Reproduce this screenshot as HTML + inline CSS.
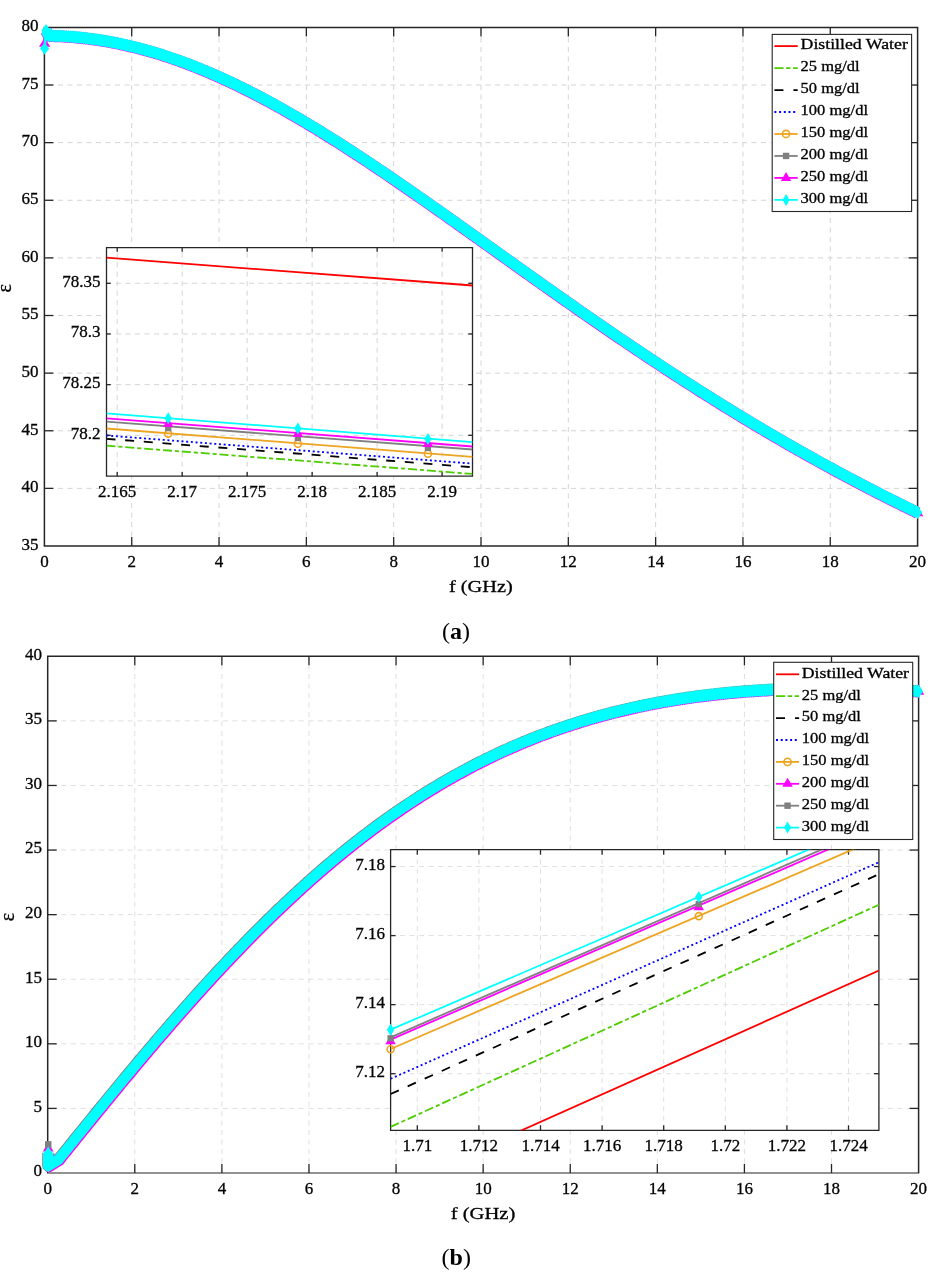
<!DOCTYPE html><html><head><meta charset="utf-8"><style>html,body{margin:0;padding:0;background:#fff;}svg{display:block}</style></head><body>
<svg width="946" height="1284" viewBox="0 0 946 1284" style="font-family:'Liberation Serif',serif">
<style>text{stroke:#000;stroke-width:0.3px;fill:#000}</style>
<rect width="946" height="1284" fill="#fff"/>
<line x1="131.72" y1="546" x2="131.72" y2="27.4" stroke="#d4d4d4" stroke-width="1" stroke-dasharray="5 4.5" stroke-dashoffset="0.0"/>
<line x1="219.04" y1="546" x2="219.04" y2="27.4" stroke="#d4d4d4" stroke-width="1" stroke-dasharray="5 4.5" stroke-dashoffset="0.0"/>
<line x1="306.36" y1="546" x2="306.36" y2="27.4" stroke="#d4d4d4" stroke-width="1" stroke-dasharray="5 4.5" stroke-dashoffset="0.0"/>
<line x1="393.68" y1="546" x2="393.68" y2="27.4" stroke="#d4d4d4" stroke-width="1" stroke-dasharray="5 4.5" stroke-dashoffset="0.0"/>
<line x1="481" y1="546" x2="481" y2="27.4" stroke="#d4d4d4" stroke-width="1" stroke-dasharray="5 4.5" stroke-dashoffset="0.0"/>
<line x1="568.32" y1="546" x2="568.32" y2="27.4" stroke="#d4d4d4" stroke-width="1" stroke-dasharray="5 4.5" stroke-dashoffset="0.0"/>
<line x1="655.64" y1="546" x2="655.64" y2="27.4" stroke="#d4d4d4" stroke-width="1" stroke-dasharray="5 4.5" stroke-dashoffset="0.0"/>
<line x1="742.96" y1="546" x2="742.96" y2="27.4" stroke="#d4d4d4" stroke-width="1" stroke-dasharray="5 4.5" stroke-dashoffset="0.0"/>
<line x1="830.28" y1="546" x2="830.28" y2="27.4" stroke="#d4d4d4" stroke-width="1" stroke-dasharray="5 4.5" stroke-dashoffset="0.0"/>
<line x1="44.4" y1="488.38" x2="917.6" y2="488.38" stroke="#d4d4d4" stroke-width="1" stroke-dasharray="5 4.5" stroke-dashoffset="5.4"/>
<line x1="44.4" y1="430.76" x2="917.6" y2="430.76" stroke="#d4d4d4" stroke-width="1" stroke-dasharray="5 4.5" stroke-dashoffset="5.4"/>
<line x1="44.4" y1="373.13" x2="917.6" y2="373.13" stroke="#d4d4d4" stroke-width="1" stroke-dasharray="5 4.5" stroke-dashoffset="5.4"/>
<line x1="44.4" y1="315.51" x2="917.6" y2="315.51" stroke="#d4d4d4" stroke-width="1" stroke-dasharray="5 4.5" stroke-dashoffset="5.4"/>
<line x1="44.4" y1="257.89" x2="917.6" y2="257.89" stroke="#d4d4d4" stroke-width="1" stroke-dasharray="5 4.5" stroke-dashoffset="5.4"/>
<line x1="44.4" y1="200.27" x2="917.6" y2="200.27" stroke="#d4d4d4" stroke-width="1" stroke-dasharray="5 4.5" stroke-dashoffset="5.4"/>
<line x1="44.4" y1="142.64" x2="917.6" y2="142.64" stroke="#d4d4d4" stroke-width="1" stroke-dasharray="5 4.5" stroke-dashoffset="5.4"/>
<line x1="44.4" y1="85.02" x2="917.6" y2="85.02" stroke="#d4d4d4" stroke-width="1" stroke-dasharray="5 4.5" stroke-dashoffset="5.4"/>
<path d="M44.4 546V27.4H917.6V546" fill="none" stroke="#262626" stroke-width="1.5"/>
<line x1="43.8" y1="546" x2="918.2" y2="546" stroke="#262626" stroke-width="1.6"/>
<line x1="131.72" y1="546" x2="131.72" y2="537" stroke="#262626" stroke-width="1.3"/>
<line x1="131.72" y1="27.4" x2="131.72" y2="36.4" stroke="#262626" stroke-width="1.3"/>
<line x1="219.04" y1="546" x2="219.04" y2="537" stroke="#262626" stroke-width="1.3"/>
<line x1="219.04" y1="27.4" x2="219.04" y2="36.4" stroke="#262626" stroke-width="1.3"/>
<line x1="306.36" y1="546" x2="306.36" y2="537" stroke="#262626" stroke-width="1.3"/>
<line x1="306.36" y1="27.4" x2="306.36" y2="36.4" stroke="#262626" stroke-width="1.3"/>
<line x1="393.68" y1="546" x2="393.68" y2="537" stroke="#262626" stroke-width="1.3"/>
<line x1="393.68" y1="27.4" x2="393.68" y2="36.4" stroke="#262626" stroke-width="1.3"/>
<line x1="481" y1="546" x2="481" y2="537" stroke="#262626" stroke-width="1.3"/>
<line x1="481" y1="27.4" x2="481" y2="36.4" stroke="#262626" stroke-width="1.3"/>
<line x1="568.32" y1="546" x2="568.32" y2="537" stroke="#262626" stroke-width="1.3"/>
<line x1="568.32" y1="27.4" x2="568.32" y2="36.4" stroke="#262626" stroke-width="1.3"/>
<line x1="655.64" y1="546" x2="655.64" y2="537" stroke="#262626" stroke-width="1.3"/>
<line x1="655.64" y1="27.4" x2="655.64" y2="36.4" stroke="#262626" stroke-width="1.3"/>
<line x1="742.96" y1="546" x2="742.96" y2="537" stroke="#262626" stroke-width="1.3"/>
<line x1="742.96" y1="27.4" x2="742.96" y2="36.4" stroke="#262626" stroke-width="1.3"/>
<line x1="830.28" y1="546" x2="830.28" y2="537" stroke="#262626" stroke-width="1.3"/>
<line x1="830.28" y1="27.4" x2="830.28" y2="36.4" stroke="#262626" stroke-width="1.3"/>
<line x1="44.4" y1="488.38" x2="53.4" y2="488.38" stroke="#262626" stroke-width="1.3"/>
<line x1="917.6" y1="488.38" x2="908.6" y2="488.38" stroke="#262626" stroke-width="1.3"/>
<line x1="44.4" y1="430.76" x2="53.4" y2="430.76" stroke="#262626" stroke-width="1.3"/>
<line x1="917.6" y1="430.76" x2="908.6" y2="430.76" stroke="#262626" stroke-width="1.3"/>
<line x1="44.4" y1="373.13" x2="53.4" y2="373.13" stroke="#262626" stroke-width="1.3"/>
<line x1="917.6" y1="373.13" x2="908.6" y2="373.13" stroke="#262626" stroke-width="1.3"/>
<line x1="44.4" y1="315.51" x2="53.4" y2="315.51" stroke="#262626" stroke-width="1.3"/>
<line x1="917.6" y1="315.51" x2="908.6" y2="315.51" stroke="#262626" stroke-width="1.3"/>
<line x1="44.4" y1="257.89" x2="53.4" y2="257.89" stroke="#262626" stroke-width="1.3"/>
<line x1="917.6" y1="257.89" x2="908.6" y2="257.89" stroke="#262626" stroke-width="1.3"/>
<line x1="44.4" y1="200.27" x2="53.4" y2="200.27" stroke="#262626" stroke-width="1.3"/>
<line x1="917.6" y1="200.27" x2="908.6" y2="200.27" stroke="#262626" stroke-width="1.3"/>
<line x1="44.4" y1="142.64" x2="53.4" y2="142.64" stroke="#262626" stroke-width="1.3"/>
<line x1="917.6" y1="142.64" x2="908.6" y2="142.64" stroke="#262626" stroke-width="1.3"/>
<line x1="44.4" y1="85.02" x2="53.4" y2="85.02" stroke="#262626" stroke-width="1.3"/>
<line x1="917.6" y1="85.02" x2="908.6" y2="85.02" stroke="#262626" stroke-width="1.3"/>
<defs>
<marker id="dmk" markerUnits="userSpaceOnUse" markerWidth="9.2" markerHeight="13" refX="4.6" refY="6.5" orient="0" style="overflow:visible"><path d="M4.6 0L9.2 6.5L4.6 13L0 6.5Z" fill="#00ffff"/></marker>
<marker id="dmkb" markerUnits="userSpaceOnUse" markerWidth="9" markerHeight="13.2" refX="4.5" refY="6.6" orient="0" style="overflow:visible"><path d="M4.5 0L9 6.6L4.5 13.2L0 6.6Z" fill="#00ffff"/></marker>
</defs>
<path d="M46.0 30.4 L48.8 35.7 L50.9 35.8 L53.1 35.8 L55.3 35.9 L57.5 36.0 L59.7 36.0 L61.8 36.1 L64.0 36.3 L66.2 36.4 L68.4 36.5 L70.5 36.7 L72.7 36.8 L74.9 37.0 L77.1 37.2 L79.3 37.4 L81.4 37.6 L83.6 37.9 L85.8 38.1 L88.0 38.4 L90.1 38.7 L92.3 38.9 L94.5 39.2 L96.7 39.6 L98.8 39.9 L101.0 40.2 L103.2 40.6 L105.4 40.9 L107.6 41.3 L109.7 41.7 L111.9 42.1 L114.1 42.5 L116.3 42.9 L118.4 43.4 L120.6 43.8 L122.8 44.3 L125.0 44.8 L127.2 45.3 L129.3 45.8 L131.5 46.3 L133.7 46.8 L135.9 47.4 L138.0 47.9 L140.2 48.5 L142.4 49.1 L144.6 49.7 L146.8 50.3 L148.9 50.9 L151.1 51.5 L153.3 52.1 L155.5 52.8 L157.6 53.4 L159.8 54.1 L162.0 54.8 L164.2 55.5 L166.4 56.2 L168.5 56.9 L170.7 57.7 L172.9 58.4 L175.1 59.2 L177.2 59.9 L179.4 60.7 L181.6 61.5 L183.8 62.3 L186.0 63.1 L188.1 63.9 L190.3 64.8 L192.5 65.6 L194.7 66.5 L196.8 67.3 L199.0 68.2 L201.2 69.1 L203.4 70.0 L205.5 70.9 L207.7 71.8 L209.9 72.7 L212.1 73.7 L214.3 74.6 L216.4 75.6 L218.6 76.5 L220.8 77.5 L223.0 78.5 L225.1 79.5 L227.3 80.5 L229.5 81.5 L231.7 82.5 L233.9 83.6 L236.0 84.6 L238.2 85.7 L240.4 86.7 L242.6 87.8 L244.7 88.9 L246.9 90.0 L249.1 91.1 L251.3 92.2 L253.5 93.3 L255.6 94.4 L257.8 95.5 L260.0 96.7 L262.2 97.8 L264.3 99.0 L266.5 100.1 L268.7 101.3 L270.9 102.5 L273.1 103.7 L275.2 104.9 L277.4 106.1 L279.6 107.3 L281.8 108.5 L283.9 109.7 L286.1 111.0 L288.3 112.2 L290.5 113.5 L292.6 114.7 L294.8 116.0 L297.0 117.2 L299.2 118.5 L301.4 119.8 L303.5 121.1 L305.7 122.4 L307.9 123.7 L310.1 125.0 L312.2 126.3 L314.4 127.6 L316.6 128.9 L318.8 130.3 L321.0 131.6 L323.1 133.0 L325.3 134.3 L327.5 135.7 L329.7 137.0 L331.8 138.4 L334.0 139.8 L336.2 141.1 L338.4 142.5 L340.6 143.9 L342.7 145.3 L344.9 146.7 L347.1 148.1 L349.3 149.5 L351.4 150.9 L353.6 152.3 L355.8 153.8 L358.0 155.2 L360.2 156.6 L362.3 158.0 L364.5 159.5 L366.7 160.9 L368.9 162.4 L371.0 163.8 L373.2 165.3 L375.4 166.7 L377.6 168.2 L379.8 169.7 L381.9 171.1 L384.1 172.6 L386.3 174.1 L388.5 175.6 L390.6 177.0 L392.8 178.5 L395.0 180.0 L397.2 181.5 L399.3 183.0 L401.5 184.5 L403.7 186.0 L405.9 187.5 L408.1 189.0 L410.2 190.5 L412.4 192.0 L414.6 193.5 L416.8 195.1 L418.9 196.6 L421.1 198.1 L423.3 199.6 L425.5 201.1 L427.7 202.7 L429.8 204.2 L432.0 205.7 L434.2 207.3 L436.4 208.8 L438.5 210.3 L440.7 211.9 L442.9 213.4 L445.1 214.9 L447.3 216.5 L449.4 218.0 L451.6 219.6 L453.8 221.1 L456.0 222.6 L458.1 224.2 L460.3 225.7 L462.5 227.3 L464.7 228.8 L466.9 230.4 L469.0 231.9 L471.2 233.5 L473.4 235.0 L475.6 236.6 L477.7 238.1 L479.9 239.7 L482.1 241.3 L484.3 242.8 L486.4 244.4 L488.6 245.9 L490.8 247.5 L493.0 249.0 L495.2 250.6 L497.3 252.1 L499.5 253.7 L501.7 255.2 L503.9 256.8 L506.0 258.4 L508.2 259.9 L510.4 261.5 L512.6 263.0 L514.8 264.6 L516.9 266.1 L519.1 267.7 L521.3 269.2 L523.5 270.8 L525.6 272.3 L527.8 273.9 L530.0 275.4 L532.2 277.0 L534.4 278.5 L536.5 280.1 L538.7 281.6 L540.9 283.1 L543.1 284.7 L545.2 286.2 L547.4 287.8 L549.6 289.3 L551.8 290.8 L554.0 292.4 L556.1 293.9 L558.3 295.4 L560.5 297.0 L562.7 298.5 L564.8 300.0 L567.0 301.6 L569.2 303.1 L571.4 304.6 L573.6 306.1 L575.7 307.7 L577.9 309.2 L580.1 310.7 L582.3 312.2 L584.4 313.7 L586.6 315.2 L588.8 316.8 L591.0 318.3 L593.1 319.8 L595.3 321.3 L597.5 322.8 L599.7 324.3 L601.9 325.8 L604.0 327.3 L606.2 328.8 L608.4 330.3 L610.6 331.8 L612.7 333.2 L614.9 334.7 L617.1 336.2 L619.3 337.7 L621.5 339.2 L623.6 340.6 L625.8 342.1 L628.0 343.6 L630.2 345.1 L632.3 346.5 L634.5 348.0 L636.7 349.5 L638.9 350.9 L641.1 352.4 L643.2 353.8 L645.4 355.3 L647.6 356.7 L649.8 358.2 L651.9 359.6 L654.1 361.1 L656.3 362.5 L658.5 363.9 L660.7 365.4 L662.8 366.8 L665.0 368.2 L667.2 369.7 L669.4 371.1 L671.5 372.5 L673.7 373.9 L675.9 375.3 L678.1 376.7 L680.2 378.1 L682.4 379.6 L684.6 381.0 L686.8 382.4 L689.0 383.7 L691.1 385.1 L693.3 386.5 L695.5 387.9 L697.7 389.3 L699.8 390.7 L702.0 392.1 L704.2 393.4 L706.4 394.8 L708.6 396.2 L710.7 397.5 L712.9 398.9 L715.1 400.3 L717.3 401.6 L719.4 403.0 L721.6 404.3 L723.8 405.7 L726.0 407.0 L728.2 408.4 L730.3 409.7 L732.5 411.0 L734.7 412.4 L736.9 413.7 L739.0 415.0 L741.2 416.3 L743.4 417.7 L745.6 419.0 L747.8 420.3 L749.9 421.6 L752.1 422.9 L754.3 424.2 L756.5 425.5 L758.6 426.8 L760.8 428.1 L763.0 429.4 L765.2 430.7 L767.4 432.0 L769.5 433.2 L771.7 434.5 L773.9 435.8 L776.1 437.1 L778.2 438.3 L780.4 439.6 L782.6 440.9 L784.8 442.1 L786.9 443.4 L789.1 444.6 L791.3 445.9 L793.5 447.1 L795.7 448.3 L797.8 449.6 L800.0 450.8 L802.2 452.0 L804.4 453.3 L806.5 454.5 L808.7 455.7 L810.9 456.9 L813.1 458.1 L815.3 459.4 L817.4 460.6 L819.6 461.8 L821.8 463.0 L824.0 464.2 L826.1 465.4 L828.3 466.5 L830.5 467.7 L832.7 468.9 L834.9 470.1 L837.0 471.3 L839.2 472.4 L841.4 473.6 L843.6 474.8 L845.7 475.9 L847.9 477.1 L850.1 478.3 L852.3 479.4 L854.5 480.6 L856.6 481.7 L858.8 482.8 L861.0 484.0 L863.2 485.1 L865.3 486.3 L867.5 487.4 L869.7 488.5 L871.9 489.6 L874.0 490.8 L876.2 491.9 L878.4 493.0 L880.6 494.1 L882.8 495.2 L884.9 496.3 L887.1 497.4 L889.3 498.5 L891.5 499.6 L893.6 500.7 L895.8 501.8 L898.0 502.9 L900.2 503.9 L902.4 505.0 L904.5 506.1 L906.7 507.2 L908.9 508.2 L911.1 509.3 L913.2 510.4 L915.4 511.4 L917.6 512.5" fill="none" stroke="#ff00ff" stroke-width="11.8" stroke-linejoin="round" stroke-linecap="butt" transform="translate(0,0.35)"/>
<path d="M917.6 506.33L923.2 516.33L912 516.33Z" fill="#ff00ff"/>
<path d="M46.0 30.4 L48.8 35.7 L50.9 35.8 L53.1 35.8 L55.3 35.9 L57.5 36.0 L59.7 36.0 L61.8 36.1 L64.0 36.3 L66.2 36.4 L68.4 36.5 L70.5 36.7 L72.7 36.8 L74.9 37.0 L77.1 37.2 L79.3 37.4 L81.4 37.6 L83.6 37.9 L85.8 38.1 L88.0 38.4 L90.1 38.7 L92.3 38.9 L94.5 39.2 L96.7 39.6 L98.8 39.9 L101.0 40.2 L103.2 40.6 L105.4 40.9 L107.6 41.3 L109.7 41.7 L111.9 42.1 L114.1 42.5 L116.3 42.9 L118.4 43.4 L120.6 43.8 L122.8 44.3 L125.0 44.8 L127.2 45.3 L129.3 45.8 L131.5 46.3 L133.7 46.8 L135.9 47.4 L138.0 47.9 L140.2 48.5 L142.4 49.1 L144.6 49.7 L146.8 50.3 L148.9 50.9 L151.1 51.5 L153.3 52.1 L155.5 52.8 L157.6 53.4 L159.8 54.1 L162.0 54.8 L164.2 55.5 L166.4 56.2 L168.5 56.9 L170.7 57.7 L172.9 58.4 L175.1 59.2 L177.2 59.9 L179.4 60.7 L181.6 61.5 L183.8 62.3 L186.0 63.1 L188.1 63.9 L190.3 64.8 L192.5 65.6 L194.7 66.5 L196.8 67.3 L199.0 68.2 L201.2 69.1 L203.4 70.0 L205.5 70.9 L207.7 71.8 L209.9 72.7 L212.1 73.7 L214.3 74.6 L216.4 75.6 L218.6 76.5 L220.8 77.5 L223.0 78.5 L225.1 79.5 L227.3 80.5 L229.5 81.5 L231.7 82.5 L233.9 83.6 L236.0 84.6 L238.2 85.7 L240.4 86.7 L242.6 87.8 L244.7 88.9 L246.9 90.0 L249.1 91.1 L251.3 92.2 L253.5 93.3 L255.6 94.4 L257.8 95.5 L260.0 96.7 L262.2 97.8 L264.3 99.0 L266.5 100.1 L268.7 101.3 L270.9 102.5 L273.1 103.7 L275.2 104.9 L277.4 106.1 L279.6 107.3 L281.8 108.5 L283.9 109.7 L286.1 111.0 L288.3 112.2 L290.5 113.5 L292.6 114.7 L294.8 116.0 L297.0 117.2 L299.2 118.5 L301.4 119.8 L303.5 121.1 L305.7 122.4 L307.9 123.7 L310.1 125.0 L312.2 126.3 L314.4 127.6 L316.6 128.9 L318.8 130.3 L321.0 131.6 L323.1 133.0 L325.3 134.3 L327.5 135.7 L329.7 137.0 L331.8 138.4 L334.0 139.8 L336.2 141.1 L338.4 142.5 L340.6 143.9 L342.7 145.3 L344.9 146.7 L347.1 148.1 L349.3 149.5 L351.4 150.9 L353.6 152.3 L355.8 153.8 L358.0 155.2 L360.2 156.6 L362.3 158.0 L364.5 159.5 L366.7 160.9 L368.9 162.4 L371.0 163.8 L373.2 165.3 L375.4 166.7 L377.6 168.2 L379.8 169.7 L381.9 171.1 L384.1 172.6 L386.3 174.1 L388.5 175.6 L390.6 177.0 L392.8 178.5 L395.0 180.0 L397.2 181.5 L399.3 183.0 L401.5 184.5 L403.7 186.0 L405.9 187.5 L408.1 189.0 L410.2 190.5 L412.4 192.0 L414.6 193.5 L416.8 195.1 L418.9 196.6 L421.1 198.1 L423.3 199.6 L425.5 201.1 L427.7 202.7 L429.8 204.2 L432.0 205.7 L434.2 207.3 L436.4 208.8 L438.5 210.3 L440.7 211.9 L442.9 213.4 L445.1 214.9 L447.3 216.5 L449.4 218.0 L451.6 219.6 L453.8 221.1 L456.0 222.6 L458.1 224.2 L460.3 225.7 L462.5 227.3 L464.7 228.8 L466.9 230.4 L469.0 231.9 L471.2 233.5 L473.4 235.0 L475.6 236.6 L477.7 238.1 L479.9 239.7 L482.1 241.3 L484.3 242.8 L486.4 244.4 L488.6 245.9 L490.8 247.5 L493.0 249.0 L495.2 250.6 L497.3 252.1 L499.5 253.7 L501.7 255.2 L503.9 256.8 L506.0 258.4 L508.2 259.9 L510.4 261.5 L512.6 263.0 L514.8 264.6 L516.9 266.1 L519.1 267.7 L521.3 269.2 L523.5 270.8 L525.6 272.3 L527.8 273.9 L530.0 275.4 L532.2 277.0 L534.4 278.5 L536.5 280.1 L538.7 281.6 L540.9 283.1 L543.1 284.7 L545.2 286.2 L547.4 287.8 L549.6 289.3 L551.8 290.8 L554.0 292.4 L556.1 293.9 L558.3 295.4 L560.5 297.0 L562.7 298.5 L564.8 300.0 L567.0 301.6 L569.2 303.1 L571.4 304.6 L573.6 306.1 L575.7 307.7 L577.9 309.2 L580.1 310.7 L582.3 312.2 L584.4 313.7 L586.6 315.2 L588.8 316.8 L591.0 318.3 L593.1 319.8 L595.3 321.3 L597.5 322.8 L599.7 324.3 L601.9 325.8 L604.0 327.3 L606.2 328.8 L608.4 330.3 L610.6 331.8 L612.7 333.2 L614.9 334.7 L617.1 336.2 L619.3 337.7 L621.5 339.2 L623.6 340.6 L625.8 342.1 L628.0 343.6 L630.2 345.1 L632.3 346.5 L634.5 348.0 L636.7 349.5 L638.9 350.9 L641.1 352.4 L643.2 353.8 L645.4 355.3 L647.6 356.7 L649.8 358.2 L651.9 359.6 L654.1 361.1 L656.3 362.5 L658.5 363.9 L660.7 365.4 L662.8 366.8 L665.0 368.2 L667.2 369.7 L669.4 371.1 L671.5 372.5 L673.7 373.9 L675.9 375.3 L678.1 376.7 L680.2 378.1 L682.4 379.6 L684.6 381.0 L686.8 382.4 L689.0 383.7 L691.1 385.1 L693.3 386.5 L695.5 387.9 L697.7 389.3 L699.8 390.7 L702.0 392.1 L704.2 393.4 L706.4 394.8 L708.6 396.2 L710.7 397.5 L712.9 398.9 L715.1 400.3 L717.3 401.6 L719.4 403.0 L721.6 404.3 L723.8 405.7 L726.0 407.0 L728.2 408.4 L730.3 409.7 L732.5 411.0 L734.7 412.4 L736.9 413.7 L739.0 415.0 L741.2 416.3 L743.4 417.7 L745.6 419.0 L747.8 420.3 L749.9 421.6 L752.1 422.9 L754.3 424.2 L756.5 425.5 L758.6 426.8 L760.8 428.1 L763.0 429.4 L765.2 430.7 L767.4 432.0 L769.5 433.2 L771.7 434.5 L773.9 435.8 L776.1 437.1 L778.2 438.3 L780.4 439.6 L782.6 440.9 L784.8 442.1 L786.9 443.4 L789.1 444.6 L791.3 445.9 L793.5 447.1 L795.7 448.3 L797.8 449.6 L800.0 450.8 L802.2 452.0 L804.4 453.3 L806.5 454.5 L808.7 455.7 L810.9 456.9 L813.1 458.1 L815.3 459.4 L817.4 460.6 L819.6 461.8 L821.8 463.0 L824.0 464.2 L826.1 465.4 L828.3 466.5 L830.5 467.7 L832.7 468.9 L834.9 470.1 L837.0 471.3 L839.2 472.4 L841.4 473.6 L843.6 474.8 L845.7 475.9 L847.9 477.1 L850.1 478.3 L852.3 479.4 L854.5 480.6 L856.6 481.7 L858.8 482.8 L861.0 484.0 L863.2 485.1 L865.3 486.3 L867.5 487.4 L869.7 488.5 L871.9 489.6 L874.0 490.8 L876.2 491.9 L878.4 493.0 L880.6 494.1 L882.8 495.2 L884.9 496.3 L887.1 497.4 L889.3 498.5 L891.5 499.6 L893.6 500.7 L895.8 501.8 L898.0 502.9 L900.2 503.9 L902.4 505.0 L904.5 506.1 L906.7 507.2 L908.9 508.2 L911.1 509.3 L913.2 510.4 L915.4 511.4 L917.6 512.5" fill="none" stroke="#00ffff" stroke-width="11.0" stroke-linejoin="round" stroke-linecap="butt" marker-start="url(#dmk)" marker-mid="url(#dmk)" marker-end="url(#dmk)"/>
<path d="M44.6 37.5L50.2 46.8L39 46.8Z" fill="#ff00ff"/>
<line x1="44.6" y1="48.6" x2="45.8" y2="33" stroke="#00ffff" stroke-width="2.6"/>
<path d="M44.6 42.6L49.2 48.6L44.6 54.6L40 48.6Z" fill="#00ffff"/>
<clipPath id="ca"><rect x="106.5" y="247.6" width="366" height="228.6"/></clipPath>
<rect x="106.5" y="247.6" width="366" height="228.6" fill="#fff"/>
<line x1="117.2" y1="476.2" x2="117.2" y2="247.6" stroke="#d4d4d4" stroke-width="1" stroke-dasharray="5 4.5"/>
<line x1="182.18" y1="476.2" x2="182.18" y2="247.6" stroke="#d4d4d4" stroke-width="1" stroke-dasharray="5 4.5"/>
<line x1="247.16" y1="476.2" x2="247.16" y2="247.6" stroke="#d4d4d4" stroke-width="1" stroke-dasharray="5 4.5"/>
<line x1="312.14" y1="476.2" x2="312.14" y2="247.6" stroke="#d4d4d4" stroke-width="1" stroke-dasharray="5 4.5"/>
<line x1="377.12" y1="476.2" x2="377.12" y2="247.6" stroke="#d4d4d4" stroke-width="1" stroke-dasharray="5 4.5"/>
<line x1="442.1" y1="476.2" x2="442.1" y2="247.6" stroke="#d4d4d4" stroke-width="1" stroke-dasharray="5 4.5"/>
<line x1="106.5" y1="435.3" x2="472.5" y2="435.3" stroke="#d4d4d4" stroke-width="1" stroke-dasharray="5 4.5" stroke-dashoffset="0"/>
<line x1="106.5" y1="384.63" x2="472.5" y2="384.63" stroke="#d4d4d4" stroke-width="1" stroke-dasharray="5 4.5" stroke-dashoffset="0"/>
<line x1="106.5" y1="333.96" x2="472.5" y2="333.96" stroke="#d4d4d4" stroke-width="1" stroke-dasharray="5 4.5" stroke-dashoffset="0"/>
<line x1="106.5" y1="283.29" x2="472.5" y2="283.29" stroke="#d4d4d4" stroke-width="1" stroke-dasharray="5 4.5" stroke-dashoffset="0"/>
<path d="M106.5 247.6H472.5V476.2H106.5Z" fill="none" stroke="#262626" stroke-width="1.3"/>
<line x1="117.2" y1="476.2" x2="117.2" y2="472" stroke="#262626" stroke-width="1.3"/>
<line x1="117.2" y1="247.6" x2="117.2" y2="251.8" stroke="#262626" stroke-width="1.3"/>
<line x1="182.18" y1="476.2" x2="182.18" y2="472" stroke="#262626" stroke-width="1.3"/>
<line x1="182.18" y1="247.6" x2="182.18" y2="251.8" stroke="#262626" stroke-width="1.3"/>
<line x1="247.16" y1="476.2" x2="247.16" y2="472" stroke="#262626" stroke-width="1.3"/>
<line x1="247.16" y1="247.6" x2="247.16" y2="251.8" stroke="#262626" stroke-width="1.3"/>
<line x1="312.14" y1="476.2" x2="312.14" y2="472" stroke="#262626" stroke-width="1.3"/>
<line x1="312.14" y1="247.6" x2="312.14" y2="251.8" stroke="#262626" stroke-width="1.3"/>
<line x1="377.12" y1="476.2" x2="377.12" y2="472" stroke="#262626" stroke-width="1.3"/>
<line x1="377.12" y1="247.6" x2="377.12" y2="251.8" stroke="#262626" stroke-width="1.3"/>
<line x1="442.1" y1="476.2" x2="442.1" y2="472" stroke="#262626" stroke-width="1.3"/>
<line x1="442.1" y1="247.6" x2="442.1" y2="251.8" stroke="#262626" stroke-width="1.3"/>
<line x1="106.5" y1="435.3" x2="110.7" y2="435.3" stroke="#262626" stroke-width="1.3"/>
<line x1="472.5" y1="435.3" x2="468.3" y2="435.3" stroke="#262626" stroke-width="1.3"/>
<line x1="106.5" y1="384.63" x2="110.7" y2="384.63" stroke="#262626" stroke-width="1.3"/>
<line x1="472.5" y1="384.63" x2="468.3" y2="384.63" stroke="#262626" stroke-width="1.3"/>
<line x1="106.5" y1="333.96" x2="110.7" y2="333.96" stroke="#262626" stroke-width="1.3"/>
<line x1="472.5" y1="333.96" x2="468.3" y2="333.96" stroke="#262626" stroke-width="1.3"/>
<line x1="106.5" y1="283.29" x2="110.7" y2="283.29" stroke="#262626" stroke-width="1.3"/>
<line x1="472.5" y1="283.29" x2="468.3" y2="283.29" stroke="#262626" stroke-width="1.3"/>
<g clip-path="url(#ca)" stroke-width="1.8" fill="none">
<line x1="106.5" y1="257.7" x2="472.5" y2="285.5" stroke="#ff0000"/>
<line x1="106.5" y1="445.7" x2="472.5" y2="473.9" stroke="#4dcc00" stroke-dasharray="9 2.9 4.1 2.9"/>
<line x1="106.5" y1="438.8" x2="472.5" y2="467.2" stroke="#000000" stroke-dasharray="9 9.7"/>
<line x1="106.5" y1="435.5" x2="472.5" y2="463.6" stroke="#0000ff" stroke-dasharray="2 2.7"/>
<line x1="106.5" y1="428.5" x2="472.5" y2="456.8" stroke="#eda41f"/>
<line x1="106.5" y1="421.6" x2="472.5" y2="449.5" stroke="#808080"/>
<line x1="106.5" y1="418.3" x2="472.5" y2="446.5" stroke="#ff00ff"/>
<line x1="106.5" y1="413.3" x2="472.5" y2="442.2" stroke="#00ffff"/>
</g>
<circle cx="168.2" cy="433.67" r="3.5" fill="none" stroke="#eda41f" stroke-width="1.6"/>
<rect x="165.05" y="424.95" width="6.3" height="6.3" fill="#808080"/>
<path d="M168.2 418.05L173.4 427.05L163 427.05Z" fill="#ff00ff"/>
<path d="M168.2 412.37L171.9 418.37L168.2 424.37L164.5 418.37Z" fill="#00ffff"/>
<circle cx="297.9" cy="443.7" r="3.5" fill="none" stroke="#eda41f" stroke-width="1.6"/>
<rect x="294.75" y="434.84" width="6.3" height="6.3" fill="#808080"/>
<path d="M297.9 428.05L303.1 437.05L292.7 437.05Z" fill="#ff00ff"/>
<path d="M297.9 422.61L301.6 428.61L297.9 434.61L294.2 428.61Z" fill="#00ffff"/>
<circle cx="427.9" cy="453.75" r="3.5" fill="none" stroke="#eda41f" stroke-width="1.6"/>
<rect x="424.75" y="444.75" width="6.3" height="6.3" fill="#808080"/>
<path d="M427.9 438.06L433.1 447.06L422.7 447.06Z" fill="#ff00ff"/>
<path d="M427.9 432.88L431.6 438.88L427.9 444.88L424.2 438.88Z" fill="#00ffff"/>
<g style="filter:grayscale(1)"><text x="117.2" y="496.9" font-size="17" text-anchor="middle">2.165</text></g>
<g style="filter:grayscale(1)"><text x="182.18" y="496.9" font-size="17" text-anchor="middle">2.17</text></g>
<g style="filter:grayscale(1)"><text x="247.16" y="496.9" font-size="17" text-anchor="middle">2.175</text></g>
<g style="filter:grayscale(1)"><text x="312.14" y="496.9" font-size="17" text-anchor="middle">2.18</text></g>
<g style="filter:grayscale(1)"><text x="377.12" y="496.9" font-size="17" text-anchor="middle">2.185</text></g>
<g style="filter:grayscale(1)"><text x="442.1" y="496.9" font-size="17" text-anchor="middle">2.19</text></g>
<g style="filter:grayscale(1)"><text x="100.6" y="438.7" font-size="17" text-anchor="end">78.2</text></g>
<g style="filter:grayscale(1)"><text x="100.6" y="388.03" font-size="17" text-anchor="end">78.25</text></g>
<g style="filter:grayscale(1)"><text x="100.6" y="337.36" font-size="17" text-anchor="end">78.3</text></g>
<g style="filter:grayscale(1)"><text x="100.6" y="286.69" font-size="17" text-anchor="end">78.35</text></g>
<g style="filter:grayscale(1)"><text x="38.6" y="549.8" font-size="17" text-anchor="end">35</text></g>
<g style="filter:grayscale(1)"><text x="38.6" y="492.18" font-size="17" text-anchor="end">40</text></g>
<g style="filter:grayscale(1)"><text x="38.6" y="434.56" font-size="17" text-anchor="end">45</text></g>
<g style="filter:grayscale(1)"><text x="38.6" y="376.93" font-size="17" text-anchor="end">50</text></g>
<g style="filter:grayscale(1)"><text x="38.6" y="319.31" font-size="17" text-anchor="end">55</text></g>
<g style="filter:grayscale(1)"><text x="38.6" y="261.69" font-size="17" text-anchor="end">60</text></g>
<g style="filter:grayscale(1)"><text x="38.6" y="204.07" font-size="17" text-anchor="end">65</text></g>
<g style="filter:grayscale(1)"><text x="38.6" y="146.44" font-size="17" text-anchor="end">70</text></g>
<g style="filter:grayscale(1)"><text x="38.6" y="88.82" font-size="17" text-anchor="end">75</text></g>
<g style="filter:grayscale(1)"><text x="38.6" y="31.2" font-size="17" text-anchor="end">80</text></g>
<g style="filter:grayscale(1)"><text x="44.4" y="567.3" font-size="17" text-anchor="middle">0</text></g>
<g style="filter:grayscale(1)"><text x="131.72" y="567.3" font-size="17" text-anchor="middle">2</text></g>
<g style="filter:grayscale(1)"><text x="219.04" y="567.3" font-size="17" text-anchor="middle">4</text></g>
<g style="filter:grayscale(1)"><text x="306.36" y="567.3" font-size="17" text-anchor="middle">6</text></g>
<g style="filter:grayscale(1)"><text x="393.68" y="567.3" font-size="17" text-anchor="middle">8</text></g>
<g style="filter:grayscale(1)"><text x="481" y="567.3" font-size="17" text-anchor="middle">10</text></g>
<g style="filter:grayscale(1)"><text x="568.32" y="567.3" font-size="17" text-anchor="middle">12</text></g>
<g style="filter:grayscale(1)"><text x="655.64" y="567.3" font-size="17" text-anchor="middle">14</text></g>
<g style="filter:grayscale(1)"><text x="742.96" y="567.3" font-size="17" text-anchor="middle">16</text></g>
<g style="filter:grayscale(1)"><text x="830.28" y="567.3" font-size="17" text-anchor="middle">18</text></g>
<g style="filter:grayscale(1)"><text x="917.6" y="567.3" font-size="17" text-anchor="middle">20</text></g>
<rect x="772.2" y="34.4" width="139.4" height="177.1" fill="#fff" stroke="#262626" stroke-width="1.1"/>
<line x1="774.4" y1="46.1" x2="797.7" y2="46.1" stroke="#ff0000" stroke-width="1.8"/>
<g style="filter:grayscale(1)"><text x="800.6" y="49.4" font-size="14.6" text-anchor="start" textLength="107.2" lengthAdjust="spacingAndGlyphs">Distilled Water</text></g>
<line x1="774.4" y1="68.07" x2="797.7" y2="68.07" stroke="#4dcc00" stroke-width="1.8" stroke-dasharray="9.1 2.6 4.4 2.6"/>
<g style="filter:grayscale(1)"><text x="800.6" y="71.37" font-size="14.6" text-anchor="start" textLength="59" lengthAdjust="spacingAndGlyphs">25 mg/dl</text></g>
<line x1="774.4" y1="90.04" x2="797.7" y2="90.04" stroke="#000000" stroke-width="1.8" stroke-dasharray="9 10"/>
<g style="filter:grayscale(1)"><text x="800.6" y="93.34" font-size="14.6" text-anchor="start" textLength="59" lengthAdjust="spacingAndGlyphs">50 mg/dl</text></g>
<line x1="774.4" y1="112.01" x2="797.7" y2="112.01" stroke="#0000ff" stroke-width="1.8" stroke-dasharray="2 2.7"/>
<g style="filter:grayscale(1)"><text x="800.6" y="115.31" font-size="14.6" text-anchor="start" textLength="67.4" lengthAdjust="spacingAndGlyphs">100 mg/dl</text></g>
<line x1="774.4" y1="133.98" x2="797.7" y2="133.98" stroke="#eda41f" stroke-width="1.8"/>
<circle cx="786.05" cy="133.98" r="3.6" fill="none" stroke="#eda41f" stroke-width="1.6"/>
<g style="filter:grayscale(1)"><text x="800.6" y="137.28" font-size="14.6" text-anchor="start" textLength="67.4" lengthAdjust="spacingAndGlyphs">150 mg/dl</text></g>
<line x1="774.4" y1="155.95" x2="797.7" y2="155.95" stroke="#808080" stroke-width="1.8"/>
<rect x="782.85" y="152.75" width="6.4" height="6.4" fill="#808080"/>
<g style="filter:grayscale(1)"><text x="800.6" y="159.25" font-size="14.6" text-anchor="start" textLength="67.4" lengthAdjust="spacingAndGlyphs">200 mg/dl</text></g>
<line x1="774.4" y1="177.92" x2="797.7" y2="177.92" stroke="#ff00ff" stroke-width="1.8"/>
<path d="M786.05 171.92L791.25 180.92L780.85 180.92Z" fill="#ff00ff"/>
<g style="filter:grayscale(1)"><text x="800.6" y="181.22" font-size="14.6" text-anchor="start" textLength="67.4" lengthAdjust="spacingAndGlyphs">250 mg/dl</text></g>
<line x1="774.4" y1="199.89" x2="797.7" y2="199.89" stroke="#00ffff" stroke-width="1.8"/>
<path d="M786.05 193.89L789.55 199.89L786.05 205.89L782.55 199.89Z" fill="#00ffff"/>
<g style="filter:grayscale(1)"><text x="800.6" y="203.19" font-size="14.6" text-anchor="start" textLength="67.4" lengthAdjust="spacingAndGlyphs">300 mg/dl</text></g>
<g style="filter:grayscale(1)"><text x="480.8" y="591.9" font-size="17" text-anchor="middle" textLength="63.8" lengthAdjust="spacingAndGlyphs">f (GHz)</text></g>
<g style="filter:grayscale(1)"><text x="456" y="638.9" font-size="24" text-anchor="middle" style="stroke-width:0">(<tspan font-weight="bold">a</tspan>)</text></g>
<g style="filter:grayscale(1)"><text transform="translate(11.1,288.3) rotate(-90)" font-size="20" text-anchor="middle">&#949;</text></g>
<line x1="134.79" y1="1173" x2="134.79" y2="656.3" stroke="#dfdfdf" stroke-width="1" stroke-dasharray="5 4.5" stroke-dashoffset="0.0"/>
<line x1="221.88" y1="1173" x2="221.88" y2="656.3" stroke="#dfdfdf" stroke-width="1" stroke-dasharray="5 4.5" stroke-dashoffset="0.0"/>
<line x1="308.97" y1="1173" x2="308.97" y2="656.3" stroke="#dfdfdf" stroke-width="1" stroke-dasharray="5 4.5" stroke-dashoffset="0.0"/>
<line x1="396.06" y1="1173" x2="396.06" y2="656.3" stroke="#dfdfdf" stroke-width="1" stroke-dasharray="5 4.5" stroke-dashoffset="0.0"/>
<line x1="483.15" y1="1173" x2="483.15" y2="656.3" stroke="#dfdfdf" stroke-width="1" stroke-dasharray="5 4.5" stroke-dashoffset="0.0"/>
<line x1="570.24" y1="1173" x2="570.24" y2="656.3" stroke="#dfdfdf" stroke-width="1" stroke-dasharray="5 4.5" stroke-dashoffset="0.0"/>
<line x1="657.33" y1="1173" x2="657.33" y2="656.3" stroke="#dfdfdf" stroke-width="1" stroke-dasharray="5 4.5" stroke-dashoffset="0.0"/>
<line x1="744.42" y1="1173" x2="744.42" y2="656.3" stroke="#dfdfdf" stroke-width="1" stroke-dasharray="5 4.5" stroke-dashoffset="0.0"/>
<line x1="831.51" y1="1173" x2="831.51" y2="656.3" stroke="#dfdfdf" stroke-width="1" stroke-dasharray="5 4.5" stroke-dashoffset="0.0"/>
<line x1="47.7" y1="1108.41" x2="918.6" y2="1108.41" stroke="#dfdfdf" stroke-width="1" stroke-dasharray="5 4.5" stroke-dashoffset="5.4"/>
<line x1="47.7" y1="1043.83" x2="918.6" y2="1043.83" stroke="#dfdfdf" stroke-width="1" stroke-dasharray="5 4.5" stroke-dashoffset="5.4"/>
<line x1="47.7" y1="979.24" x2="918.6" y2="979.24" stroke="#dfdfdf" stroke-width="1" stroke-dasharray="5 4.5" stroke-dashoffset="5.4"/>
<line x1="47.7" y1="914.65" x2="918.6" y2="914.65" stroke="#dfdfdf" stroke-width="1" stroke-dasharray="5 4.5" stroke-dashoffset="5.4"/>
<line x1="47.7" y1="850.06" x2="918.6" y2="850.06" stroke="#dfdfdf" stroke-width="1" stroke-dasharray="5 4.5" stroke-dashoffset="5.4"/>
<line x1="47.7" y1="785.47" x2="918.6" y2="785.47" stroke="#dfdfdf" stroke-width="1" stroke-dasharray="5 4.5" stroke-dashoffset="5.4"/>
<line x1="47.7" y1="720.89" x2="918.6" y2="720.89" stroke="#dfdfdf" stroke-width="1" stroke-dasharray="5 4.5" stroke-dashoffset="5.4"/>
<path d="M47.7 1173V656.3H918.6V1173" fill="none" stroke="#262626" stroke-width="1.5"/>
<line x1="47.1" y1="1173" x2="919.2" y2="1173" stroke="#262626" stroke-width="1.15"/>
<line x1="134.79" y1="1173" x2="134.79" y2="1164" stroke="#262626" stroke-width="1.3"/>
<line x1="134.79" y1="656.3" x2="134.79" y2="665.3" stroke="#262626" stroke-width="1.3"/>
<line x1="221.88" y1="1173" x2="221.88" y2="1164" stroke="#262626" stroke-width="1.3"/>
<line x1="221.88" y1="656.3" x2="221.88" y2="665.3" stroke="#262626" stroke-width="1.3"/>
<line x1="308.97" y1="1173" x2="308.97" y2="1164" stroke="#262626" stroke-width="1.3"/>
<line x1="308.97" y1="656.3" x2="308.97" y2="665.3" stroke="#262626" stroke-width="1.3"/>
<line x1="396.06" y1="1173" x2="396.06" y2="1164" stroke="#262626" stroke-width="1.3"/>
<line x1="396.06" y1="656.3" x2="396.06" y2="665.3" stroke="#262626" stroke-width="1.3"/>
<line x1="483.15" y1="1173" x2="483.15" y2="1164" stroke="#262626" stroke-width="1.3"/>
<line x1="483.15" y1="656.3" x2="483.15" y2="665.3" stroke="#262626" stroke-width="1.3"/>
<line x1="570.24" y1="1173" x2="570.24" y2="1164" stroke="#262626" stroke-width="1.3"/>
<line x1="570.24" y1="656.3" x2="570.24" y2="665.3" stroke="#262626" stroke-width="1.3"/>
<line x1="657.33" y1="1173" x2="657.33" y2="1164" stroke="#262626" stroke-width="1.3"/>
<line x1="657.33" y1="656.3" x2="657.33" y2="665.3" stroke="#262626" stroke-width="1.3"/>
<line x1="744.42" y1="1173" x2="744.42" y2="1164" stroke="#262626" stroke-width="1.3"/>
<line x1="744.42" y1="656.3" x2="744.42" y2="665.3" stroke="#262626" stroke-width="1.3"/>
<line x1="831.51" y1="1173" x2="831.51" y2="1164" stroke="#262626" stroke-width="1.3"/>
<line x1="831.51" y1="656.3" x2="831.51" y2="665.3" stroke="#262626" stroke-width="1.3"/>
<line x1="47.7" y1="1108.41" x2="56.7" y2="1108.41" stroke="#262626" stroke-width="1.3"/>
<line x1="918.6" y1="1108.41" x2="909.6" y2="1108.41" stroke="#262626" stroke-width="1.3"/>
<line x1="47.7" y1="1043.83" x2="56.7" y2="1043.83" stroke="#262626" stroke-width="1.3"/>
<line x1="918.6" y1="1043.83" x2="909.6" y2="1043.83" stroke="#262626" stroke-width="1.3"/>
<line x1="47.7" y1="979.24" x2="56.7" y2="979.24" stroke="#262626" stroke-width="1.3"/>
<line x1="918.6" y1="979.24" x2="909.6" y2="979.24" stroke="#262626" stroke-width="1.3"/>
<line x1="47.7" y1="914.65" x2="56.7" y2="914.65" stroke="#262626" stroke-width="1.3"/>
<line x1="918.6" y1="914.65" x2="909.6" y2="914.65" stroke="#262626" stroke-width="1.3"/>
<line x1="47.7" y1="850.06" x2="56.7" y2="850.06" stroke="#262626" stroke-width="1.3"/>
<line x1="918.6" y1="850.06" x2="909.6" y2="850.06" stroke="#262626" stroke-width="1.3"/>
<line x1="47.7" y1="785.47" x2="56.7" y2="785.47" stroke="#262626" stroke-width="1.3"/>
<line x1="918.6" y1="785.47" x2="909.6" y2="785.47" stroke="#262626" stroke-width="1.3"/>
<line x1="47.7" y1="720.89" x2="56.7" y2="720.89" stroke="#262626" stroke-width="1.3"/>
<line x1="918.6" y1="720.89" x2="909.6" y2="720.89" stroke="#262626" stroke-width="1.3"/>
<path d="M48.2 1153.0 L48.2 1159.5 L48.2 1166.0 L58.6 1159.5 L60.7 1156.8 L62.9 1154.1 L65.1 1151.5 L67.2 1148.8 L69.4 1146.1 L71.5 1143.4 L73.7 1140.8 L75.8 1138.1 L78.0 1135.4 L80.1 1132.8 L82.3 1130.1 L84.5 1127.5 L86.6 1124.8 L88.8 1122.1 L90.9 1119.5 L93.1 1116.8 L95.2 1114.2 L97.4 1111.5 L99.5 1108.9 L101.7 1106.3 L103.9 1103.6 L106.0 1101.0 L108.2 1098.4 L110.3 1095.7 L112.5 1093.1 L114.6 1090.5 L116.8 1087.9 L118.9 1085.3 L121.1 1082.6 L123.2 1080.0 L125.4 1077.4 L127.6 1074.8 L129.7 1072.3 L131.9 1069.7 L134.0 1067.1 L136.2 1064.5 L138.3 1061.9 L140.5 1059.4 L142.6 1056.8 L144.8 1054.2 L147.0 1051.7 L149.1 1049.1 L151.3 1046.6 L153.4 1044.1 L155.6 1041.5 L157.7 1039.0 L159.9 1036.5 L162.0 1034.0 L164.2 1031.5 L166.4 1029.0 L168.5 1026.5 L170.7 1024.0 L172.8 1021.5 L175.0 1019.0 L177.1 1016.6 L179.3 1014.1 L181.4 1011.6 L183.6 1009.2 L185.8 1006.7 L187.9 1004.3 L190.1 1001.9 L192.2 999.5 L194.4 997.1 L196.5 994.6 L198.7 992.2 L200.8 989.9 L203.0 987.5 L205.2 985.1 L207.3 982.7 L209.5 980.4 L211.6 978.0 L213.8 975.7 L215.9 973.3 L218.1 971.0 L220.2 968.7 L222.4 966.4 L224.6 964.1 L226.7 961.8 L228.9 959.5 L231.0 957.2 L233.2 955.0 L235.3 952.7 L237.5 950.5 L239.6 948.2 L241.8 946.0 L244.0 943.8 L246.1 941.5 L248.3 939.3 L250.4 937.1 L252.6 935.0 L254.7 932.8 L256.9 930.6 L259.0 928.5 L261.2 926.3 L263.4 924.2 L265.5 922.0 L267.7 919.9 L269.8 917.8 L272.0 915.7 L274.1 913.6 L276.3 911.5 L278.4 909.5 L280.6 907.4 L282.8 905.4 L284.9 903.3 L287.1 901.3 L289.2 899.3 L291.4 897.3 L293.5 895.3 L295.7 893.3 L297.8 891.3 L300.0 889.3 L302.1 887.4 L304.3 885.4 L306.5 883.5 L308.6 881.5 L310.8 879.6 L312.9 877.7 L315.1 875.8 L317.2 873.9 L319.4 872.0 L321.5 870.2 L323.7 868.3 L325.9 866.5 L328.0 864.6 L330.2 862.8 L332.3 861.0 L334.5 859.2 L336.6 857.4 L338.8 855.6 L340.9 853.9 L343.1 852.1 L345.3 850.4 L347.4 848.6 L349.6 846.9 L351.7 845.2 L353.9 843.5 L356.0 841.8 L358.2 840.1 L360.3 838.4 L362.5 836.7 L364.7 835.1 L366.8 833.5 L369.0 831.8 L371.1 830.2 L373.3 828.6 L375.4 827.0 L377.6 825.4 L379.7 823.8 L381.9 822.3 L384.1 820.7 L386.2 819.2 L388.4 817.6 L390.5 816.1 L392.7 814.6 L394.8 813.1 L397.0 811.6 L399.1 810.1 L401.3 808.6 L403.5 807.2 L405.6 805.7 L407.8 804.3 L409.9 802.9 L412.1 801.5 L414.2 800.1 L416.4 798.7 L418.5 797.3 L420.7 795.9 L422.9 794.5 L425.0 793.2 L427.2 791.8 L429.3 790.5 L431.5 789.2 L433.6 787.9 L435.8 786.6 L437.9 785.3 L440.1 784.0 L442.3 782.7 L444.4 781.5 L446.6 780.2 L448.7 779.0 L450.9 777.8 L453.0 776.5 L455.2 775.3 L457.3 774.1 L459.5 773.0 L461.7 771.8 L463.8 770.6 L466.0 769.5 L468.1 768.3 L470.3 767.2 L472.4 766.0 L474.6 764.9 L476.7 763.8 L478.9 762.7 L481.0 761.6 L483.2 760.6 L485.4 759.5 L487.5 758.4 L489.7 757.4 L491.8 756.4 L494.0 755.3 L496.1 754.3 L498.3 753.3 L500.4 752.3 L502.6 751.3 L504.8 750.3 L506.9 749.4 L509.1 748.4 L511.2 747.4 L513.4 746.5 L515.5 745.6 L517.7 744.6 L519.8 743.7 L522.0 742.8 L524.2 741.9 L526.3 741.0 L528.5 740.2 L530.6 739.3 L532.8 738.4 L534.9 737.6 L537.1 736.7 L539.2 735.9 L541.4 735.1 L543.6 734.3 L545.7 733.5 L547.9 732.7 L550.0 731.9 L552.2 731.1 L554.3 730.3 L556.5 729.6 L558.6 728.8 L560.8 728.1 L563.0 727.3 L565.1 726.6 L567.3 725.9 L569.4 725.2 L571.6 724.5 L573.7 723.8 L575.9 723.1 L578.0 722.4 L580.2 721.7 L582.4 721.1 L584.5 720.4 L586.7 719.8 L588.8 719.1 L591.0 718.5 L593.1 717.9 L595.3 717.3 L597.4 716.7 L599.6 716.1 L601.8 715.5 L603.9 714.9 L606.1 714.3 L608.2 713.8 L610.4 713.2 L612.5 712.6 L614.7 712.1 L616.8 711.6 L619.0 711.0 L621.2 710.5 L623.3 710.0 L625.5 709.5 L627.6 709.0 L629.8 708.5 L631.9 708.0 L634.1 707.5 L636.2 707.0 L638.4 706.6 L640.6 706.1 L642.7 705.7 L644.9 705.2 L647.0 704.8 L649.2 704.4 L651.3 703.9 L653.5 703.5 L655.6 703.1 L657.8 702.7 L659.9 702.3 L662.1 701.9 L664.3 701.5 L666.4 701.1 L668.6 700.8 L670.7 700.4 L672.9 700.1 L675.0 699.7 L677.2 699.4 L679.3 699.0 L681.5 698.7 L683.7 698.4 L685.8 698.0 L688.0 697.7 L690.1 697.4 L692.3 697.1 L694.4 696.8 L696.6 696.5 L698.7 696.2 L700.9 695.9 L703.1 695.7 L705.2 695.4 L707.4 695.1 L709.5 694.9 L711.7 694.6 L713.8 694.4 L716.0 694.1 L718.1 693.9 L720.3 693.7 L722.5 693.5 L724.6 693.2 L726.8 693.0 L728.9 692.8 L731.1 692.6 L733.2 692.4 L735.4 692.2 L737.5 692.0 L739.7 691.9 L741.9 691.7 L744.0 691.5 L746.2 691.3 L748.3 691.2 L750.5 691.0 L752.6 690.9 L754.8 690.7 L756.9 690.6 L759.1 690.4 L761.3 690.3 L763.4 690.2 L765.6 690.1 L767.7 689.9 L769.9 689.8 L772.0 689.7 L774.2 689.6 L776.3 689.5 L778.5 689.4 L780.7 689.3 L782.8 689.2 L785.0 689.2 L787.1 689.1 L789.3 689.0 L791.4 688.9 L793.6 688.9 L795.7 688.8 L797.9 688.7 L800.1 688.7 L802.2 688.6 L804.4 688.6 L806.5 688.6 L808.7 688.5 L810.8 688.5 L813.0 688.5 L815.1 688.4 L817.3 688.4 L819.5 688.4 L821.6 688.4 L823.8 688.4 L825.9 688.4 L828.1 688.4 L830.2 688.4 L832.4 688.4 L834.5 688.4 L836.7 688.4 L838.8 688.4 L841.0 688.4 L843.2 688.5 L845.3 688.5 L847.5 688.5 L849.6 688.5 L851.8 688.6 L853.9 688.6 L856.1 688.7 L858.2 688.7 L860.4 688.8 L862.6 688.8 L864.7 688.9 L866.9 688.9 L869.0 689.0 L871.2 689.1 L873.3 689.1 L875.5 689.2 L877.6 689.3 L879.8 689.4 L882.0 689.4 L884.1 689.5 L886.3 689.6 L888.4 689.7 L890.6 689.8 L892.7 689.9 L894.9 690.0 L897.0 690.1 L899.2 690.2 L901.4 690.3 L903.5 690.4 L905.7 690.5 L907.8 690.6 L910.0 690.8 L912.1 690.9 L914.3 691.0 L916.4 691.1 L918.6 691.3" fill="none" stroke="#ff00ff" stroke-width="11.0" stroke-linejoin="round" stroke-linecap="butt" transform="translate(0.8,0.8)"/>
<path d="M48.2 1153.0 L48.2 1159.5 L48.2 1166.0 L58.6 1159.5 L60.7 1156.8 L62.9 1154.1 L65.1 1151.5 L67.2 1148.8 L69.4 1146.1 L71.5 1143.4 L73.7 1140.8 L75.8 1138.1 L78.0 1135.4 L80.1 1132.8 L82.3 1130.1 L84.5 1127.5 L86.6 1124.8 L88.8 1122.1 L90.9 1119.5 L93.1 1116.8 L95.2 1114.2 L97.4 1111.5 L99.5 1108.9 L101.7 1106.3 L103.9 1103.6 L106.0 1101.0 L108.2 1098.4 L110.3 1095.7 L112.5 1093.1 L114.6 1090.5 L116.8 1087.9 L118.9 1085.3 L121.1 1082.6 L123.2 1080.0 L125.4 1077.4 L127.6 1074.8 L129.7 1072.3 L131.9 1069.7 L134.0 1067.1 L136.2 1064.5 L138.3 1061.9 L140.5 1059.4 L142.6 1056.8 L144.8 1054.2 L147.0 1051.7 L149.1 1049.1 L151.3 1046.6 L153.4 1044.1 L155.6 1041.5 L157.7 1039.0 L159.9 1036.5 L162.0 1034.0 L164.2 1031.5 L166.4 1029.0 L168.5 1026.5 L170.7 1024.0 L172.8 1021.5 L175.0 1019.0 L177.1 1016.6 L179.3 1014.1 L181.4 1011.6 L183.6 1009.2 L185.8 1006.7 L187.9 1004.3 L190.1 1001.9 L192.2 999.5 L194.4 997.1 L196.5 994.6 L198.7 992.2 L200.8 989.9 L203.0 987.5 L205.2 985.1 L207.3 982.7 L209.5 980.4 L211.6 978.0 L213.8 975.7 L215.9 973.3 L218.1 971.0 L220.2 968.7 L222.4 966.4 L224.6 964.1 L226.7 961.8 L228.9 959.5 L231.0 957.2 L233.2 955.0 L235.3 952.7 L237.5 950.5 L239.6 948.2 L241.8 946.0 L244.0 943.8 L246.1 941.5 L248.3 939.3 L250.4 937.1 L252.6 935.0 L254.7 932.8 L256.9 930.6 L259.0 928.5 L261.2 926.3 L263.4 924.2 L265.5 922.0 L267.7 919.9 L269.8 917.8 L272.0 915.7 L274.1 913.6 L276.3 911.5 L278.4 909.5 L280.6 907.4 L282.8 905.4 L284.9 903.3 L287.1 901.3 L289.2 899.3 L291.4 897.3 L293.5 895.3 L295.7 893.3 L297.8 891.3 L300.0 889.3 L302.1 887.4 L304.3 885.4 L306.5 883.5 L308.6 881.5 L310.8 879.6 L312.9 877.7 L315.1 875.8 L317.2 873.9 L319.4 872.0 L321.5 870.2 L323.7 868.3 L325.9 866.5 L328.0 864.6 L330.2 862.8 L332.3 861.0 L334.5 859.2 L336.6 857.4 L338.8 855.6 L340.9 853.9 L343.1 852.1 L345.3 850.4 L347.4 848.6 L349.6 846.9 L351.7 845.2 L353.9 843.5 L356.0 841.8 L358.2 840.1 L360.3 838.4 L362.5 836.7 L364.7 835.1 L366.8 833.5 L369.0 831.8 L371.1 830.2 L373.3 828.6 L375.4 827.0 L377.6 825.4 L379.7 823.8 L381.9 822.3 L384.1 820.7 L386.2 819.2 L388.4 817.6 L390.5 816.1 L392.7 814.6 L394.8 813.1 L397.0 811.6 L399.1 810.1 L401.3 808.6 L403.5 807.2 L405.6 805.7 L407.8 804.3 L409.9 802.9 L412.1 801.5 L414.2 800.1 L416.4 798.7 L418.5 797.3 L420.7 795.9 L422.9 794.5 L425.0 793.2 L427.2 791.8 L429.3 790.5 L431.5 789.2 L433.6 787.9 L435.8 786.6 L437.9 785.3 L440.1 784.0 L442.3 782.7 L444.4 781.5 L446.6 780.2 L448.7 779.0 L450.9 777.8 L453.0 776.5 L455.2 775.3 L457.3 774.1 L459.5 773.0 L461.7 771.8 L463.8 770.6 L466.0 769.5 L468.1 768.3 L470.3 767.2 L472.4 766.0 L474.6 764.9 L476.7 763.8 L478.9 762.7 L481.0 761.6 L483.2 760.6 L485.4 759.5 L487.5 758.4 L489.7 757.4 L491.8 756.4 L494.0 755.3 L496.1 754.3 L498.3 753.3 L500.4 752.3 L502.6 751.3 L504.8 750.3 L506.9 749.4 L509.1 748.4 L511.2 747.4 L513.4 746.5 L515.5 745.6 L517.7 744.6 L519.8 743.7 L522.0 742.8 L524.2 741.9 L526.3 741.0 L528.5 740.2 L530.6 739.3 L532.8 738.4 L534.9 737.6 L537.1 736.7 L539.2 735.9 L541.4 735.1 L543.6 734.3 L545.7 733.5 L547.9 732.7 L550.0 731.9 L552.2 731.1 L554.3 730.3 L556.5 729.6 L558.6 728.8 L560.8 728.1 L563.0 727.3 L565.1 726.6 L567.3 725.9 L569.4 725.2 L571.6 724.5 L573.7 723.8 L575.9 723.1 L578.0 722.4 L580.2 721.7 L582.4 721.1 L584.5 720.4 L586.7 719.8 L588.8 719.1 L591.0 718.5 L593.1 717.9 L595.3 717.3 L597.4 716.7 L599.6 716.1 L601.8 715.5 L603.9 714.9 L606.1 714.3 L608.2 713.8 L610.4 713.2 L612.5 712.6 L614.7 712.1 L616.8 711.6 L619.0 711.0 L621.2 710.5 L623.3 710.0 L625.5 709.5 L627.6 709.0 L629.8 708.5 L631.9 708.0 L634.1 707.5 L636.2 707.0 L638.4 706.6 L640.6 706.1 L642.7 705.7 L644.9 705.2 L647.0 704.8 L649.2 704.4 L651.3 703.9 L653.5 703.5 L655.6 703.1 L657.8 702.7 L659.9 702.3 L662.1 701.9 L664.3 701.5 L666.4 701.1 L668.6 700.8 L670.7 700.4 L672.9 700.1 L675.0 699.7 L677.2 699.4 L679.3 699.0 L681.5 698.7 L683.7 698.4 L685.8 698.0 L688.0 697.7 L690.1 697.4 L692.3 697.1 L694.4 696.8 L696.6 696.5 L698.7 696.2 L700.9 695.9 L703.1 695.7 L705.2 695.4 L707.4 695.1 L709.5 694.9 L711.7 694.6 L713.8 694.4 L716.0 694.1 L718.1 693.9 L720.3 693.7 L722.5 693.5 L724.6 693.2 L726.8 693.0 L728.9 692.8 L731.1 692.6 L733.2 692.4 L735.4 692.2 L737.5 692.0 L739.7 691.9 L741.9 691.7 L744.0 691.5 L746.2 691.3 L748.3 691.2 L750.5 691.0 L752.6 690.9 L754.8 690.7 L756.9 690.6 L759.1 690.4 L761.3 690.3 L763.4 690.2 L765.6 690.1 L767.7 689.9 L769.9 689.8 L772.0 689.7 L774.2 689.6 L776.3 689.5 L778.5 689.4 L780.7 689.3 L782.8 689.2 L785.0 689.2 L787.1 689.1 L789.3 689.0 L791.4 688.9 L793.6 688.9 L795.7 688.8 L797.9 688.7 L800.1 688.7 L802.2 688.6 L804.4 688.6 L806.5 688.6 L808.7 688.5 L810.8 688.5 L813.0 688.5 L815.1 688.4 L817.3 688.4 L819.5 688.4 L821.6 688.4 L823.8 688.4 L825.9 688.4 L828.1 688.4 L830.2 688.4 L832.4 688.4 L834.5 688.4 L836.7 688.4 L838.8 688.4 L841.0 688.4 L843.2 688.5 L845.3 688.5 L847.5 688.5 L849.6 688.5 L851.8 688.6 L853.9 688.6 L856.1 688.7 L858.2 688.7 L860.4 688.8 L862.6 688.8 L864.7 688.9 L866.9 688.9 L869.0 689.0 L871.2 689.1 L873.3 689.1 L875.5 689.2 L877.6 689.3 L879.8 689.4 L882.0 689.4 L884.1 689.5 L886.3 689.6 L888.4 689.7 L890.6 689.8 L892.7 689.9 L894.9 690.0 L897.0 690.1 L899.2 690.2 L901.4 690.3 L903.5 690.4 L905.7 690.5 L907.8 690.6 L910.0 690.8 L912.1 690.9 L914.3 691.0 L916.4 691.1 L918.6 691.3" fill="none" stroke="#808080" stroke-width="11.2" stroke-linejoin="round" stroke-linecap="butt" transform="translate(-0.35,-0.35)"/>
<path d="M48.2 1142.5L53.6 1151.5L42.8 1151.5Z" fill="#ff00ff"/>
<path d="M48.2 1156L53.6 1165L42.8 1165Z" fill="#ff00ff"/>
<rect x="45" y="1141.15" width="6.5" height="6.5" fill="#808080"/>
<rect x="45" y="1163.75" width="6.5" height="6.5" fill="#808080"/>
<path d="M918.6 684.83L924.2 694.83L913 694.83Z" fill="#ff00ff"/>
<path d="M48.2 1153.0 L48.2 1159.5 L48.2 1166.0 L58.6 1159.5 L60.7 1156.8 L62.9 1154.1 L65.1 1151.5 L67.2 1148.8 L69.4 1146.1 L71.5 1143.4 L73.7 1140.8 L75.8 1138.1 L78.0 1135.4 L80.1 1132.8 L82.3 1130.1 L84.5 1127.5 L86.6 1124.8 L88.8 1122.1 L90.9 1119.5 L93.1 1116.8 L95.2 1114.2 L97.4 1111.5 L99.5 1108.9 L101.7 1106.3 L103.9 1103.6 L106.0 1101.0 L108.2 1098.4 L110.3 1095.7 L112.5 1093.1 L114.6 1090.5 L116.8 1087.9 L118.9 1085.3 L121.1 1082.6 L123.2 1080.0 L125.4 1077.4 L127.6 1074.8 L129.7 1072.3 L131.9 1069.7 L134.0 1067.1 L136.2 1064.5 L138.3 1061.9 L140.5 1059.4 L142.6 1056.8 L144.8 1054.2 L147.0 1051.7 L149.1 1049.1 L151.3 1046.6 L153.4 1044.1 L155.6 1041.5 L157.7 1039.0 L159.9 1036.5 L162.0 1034.0 L164.2 1031.5 L166.4 1029.0 L168.5 1026.5 L170.7 1024.0 L172.8 1021.5 L175.0 1019.0 L177.1 1016.6 L179.3 1014.1 L181.4 1011.6 L183.6 1009.2 L185.8 1006.7 L187.9 1004.3 L190.1 1001.9 L192.2 999.5 L194.4 997.1 L196.5 994.6 L198.7 992.2 L200.8 989.9 L203.0 987.5 L205.2 985.1 L207.3 982.7 L209.5 980.4 L211.6 978.0 L213.8 975.7 L215.9 973.3 L218.1 971.0 L220.2 968.7 L222.4 966.4 L224.6 964.1 L226.7 961.8 L228.9 959.5 L231.0 957.2 L233.2 955.0 L235.3 952.7 L237.5 950.5 L239.6 948.2 L241.8 946.0 L244.0 943.8 L246.1 941.5 L248.3 939.3 L250.4 937.1 L252.6 935.0 L254.7 932.8 L256.9 930.6 L259.0 928.5 L261.2 926.3 L263.4 924.2 L265.5 922.0 L267.7 919.9 L269.8 917.8 L272.0 915.7 L274.1 913.6 L276.3 911.5 L278.4 909.5 L280.6 907.4 L282.8 905.4 L284.9 903.3 L287.1 901.3 L289.2 899.3 L291.4 897.3 L293.5 895.3 L295.7 893.3 L297.8 891.3 L300.0 889.3 L302.1 887.4 L304.3 885.4 L306.5 883.5 L308.6 881.5 L310.8 879.6 L312.9 877.7 L315.1 875.8 L317.2 873.9 L319.4 872.0 L321.5 870.2 L323.7 868.3 L325.9 866.5 L328.0 864.6 L330.2 862.8 L332.3 861.0 L334.5 859.2 L336.6 857.4 L338.8 855.6 L340.9 853.9 L343.1 852.1 L345.3 850.4 L347.4 848.6 L349.6 846.9 L351.7 845.2 L353.9 843.5 L356.0 841.8 L358.2 840.1 L360.3 838.4 L362.5 836.7 L364.7 835.1 L366.8 833.5 L369.0 831.8 L371.1 830.2 L373.3 828.6 L375.4 827.0 L377.6 825.4 L379.7 823.8 L381.9 822.3 L384.1 820.7 L386.2 819.2 L388.4 817.6 L390.5 816.1 L392.7 814.6 L394.8 813.1 L397.0 811.6 L399.1 810.1 L401.3 808.6 L403.5 807.2 L405.6 805.7 L407.8 804.3 L409.9 802.9 L412.1 801.5 L414.2 800.1 L416.4 798.7 L418.5 797.3 L420.7 795.9 L422.9 794.5 L425.0 793.2 L427.2 791.8 L429.3 790.5 L431.5 789.2 L433.6 787.9 L435.8 786.6 L437.9 785.3 L440.1 784.0 L442.3 782.7 L444.4 781.5 L446.6 780.2 L448.7 779.0 L450.9 777.8 L453.0 776.5 L455.2 775.3 L457.3 774.1 L459.5 773.0 L461.7 771.8 L463.8 770.6 L466.0 769.5 L468.1 768.3 L470.3 767.2 L472.4 766.0 L474.6 764.9 L476.7 763.8 L478.9 762.7 L481.0 761.6 L483.2 760.6 L485.4 759.5 L487.5 758.4 L489.7 757.4 L491.8 756.4 L494.0 755.3 L496.1 754.3 L498.3 753.3 L500.4 752.3 L502.6 751.3 L504.8 750.3 L506.9 749.4 L509.1 748.4 L511.2 747.4 L513.4 746.5 L515.5 745.6 L517.7 744.6 L519.8 743.7 L522.0 742.8 L524.2 741.9 L526.3 741.0 L528.5 740.2 L530.6 739.3 L532.8 738.4 L534.9 737.6 L537.1 736.7 L539.2 735.9 L541.4 735.1 L543.6 734.3 L545.7 733.5 L547.9 732.7 L550.0 731.9 L552.2 731.1 L554.3 730.3 L556.5 729.6 L558.6 728.8 L560.8 728.1 L563.0 727.3 L565.1 726.6 L567.3 725.9 L569.4 725.2 L571.6 724.5 L573.7 723.8 L575.9 723.1 L578.0 722.4 L580.2 721.7 L582.4 721.1 L584.5 720.4 L586.7 719.8 L588.8 719.1 L591.0 718.5 L593.1 717.9 L595.3 717.3 L597.4 716.7 L599.6 716.1 L601.8 715.5 L603.9 714.9 L606.1 714.3 L608.2 713.8 L610.4 713.2 L612.5 712.6 L614.7 712.1 L616.8 711.6 L619.0 711.0 L621.2 710.5 L623.3 710.0 L625.5 709.5 L627.6 709.0 L629.8 708.5 L631.9 708.0 L634.1 707.5 L636.2 707.0 L638.4 706.6 L640.6 706.1 L642.7 705.7 L644.9 705.2 L647.0 704.8 L649.2 704.4 L651.3 703.9 L653.5 703.5 L655.6 703.1 L657.8 702.7 L659.9 702.3 L662.1 701.9 L664.3 701.5 L666.4 701.1 L668.6 700.8 L670.7 700.4 L672.9 700.1 L675.0 699.7 L677.2 699.4 L679.3 699.0 L681.5 698.7 L683.7 698.4 L685.8 698.0 L688.0 697.7 L690.1 697.4 L692.3 697.1 L694.4 696.8 L696.6 696.5 L698.7 696.2 L700.9 695.9 L703.1 695.7 L705.2 695.4 L707.4 695.1 L709.5 694.9 L711.7 694.6 L713.8 694.4 L716.0 694.1 L718.1 693.9 L720.3 693.7 L722.5 693.5 L724.6 693.2 L726.8 693.0 L728.9 692.8 L731.1 692.6 L733.2 692.4 L735.4 692.2 L737.5 692.0 L739.7 691.9 L741.9 691.7 L744.0 691.5 L746.2 691.3 L748.3 691.2 L750.5 691.0 L752.6 690.9 L754.8 690.7 L756.9 690.6 L759.1 690.4 L761.3 690.3 L763.4 690.2 L765.6 690.1 L767.7 689.9 L769.9 689.8 L772.0 689.7 L774.2 689.6 L776.3 689.5 L778.5 689.4 L780.7 689.3 L782.8 689.2 L785.0 689.2 L787.1 689.1 L789.3 689.0 L791.4 688.9 L793.6 688.9 L795.7 688.8 L797.9 688.7 L800.1 688.7 L802.2 688.6 L804.4 688.6 L806.5 688.6 L808.7 688.5 L810.8 688.5 L813.0 688.5 L815.1 688.4 L817.3 688.4 L819.5 688.4 L821.6 688.4 L823.8 688.4 L825.9 688.4 L828.1 688.4 L830.2 688.4 L832.4 688.4 L834.5 688.4 L836.7 688.4 L838.8 688.4 L841.0 688.4 L843.2 688.5 L845.3 688.5 L847.5 688.5 L849.6 688.5 L851.8 688.6 L853.9 688.6 L856.1 688.7 L858.2 688.7 L860.4 688.8 L862.6 688.8 L864.7 688.9 L866.9 688.9 L869.0 689.0 L871.2 689.1 L873.3 689.1 L875.5 689.2 L877.6 689.3 L879.8 689.4 L882.0 689.4 L884.1 689.5 L886.3 689.6 L888.4 689.7 L890.6 689.8 L892.7 689.9 L894.9 690.0 L897.0 690.1 L899.2 690.2 L901.4 690.3 L903.5 690.4 L905.7 690.5 L907.8 690.6 L910.0 690.8 L912.1 690.9 L914.3 691.0 L916.4 691.1 L918.6 691.3" fill="none" stroke="#00ffff" stroke-width="10.4" stroke-linejoin="round" stroke-linecap="butt" marker-start="url(#dmkb)" marker-mid="url(#dmkb)" marker-end="url(#dmkb)"/>
<clipPath id="cb"><rect x="390.6" y="849.7" width="488.3" height="280.6"/></clipPath>
<rect x="390.6" y="849.7" width="488.3" height="280.6" fill="#fff"/>
<line x1="417.3" y1="1130.3" x2="417.3" y2="849.7" stroke="#dfdfdf" stroke-width="1" stroke-dasharray="5 4.5"/>
<line x1="478.9" y1="1130.3" x2="478.9" y2="849.7" stroke="#dfdfdf" stroke-width="1" stroke-dasharray="5 4.5"/>
<line x1="540.5" y1="1130.3" x2="540.5" y2="849.7" stroke="#dfdfdf" stroke-width="1" stroke-dasharray="5 4.5"/>
<line x1="602.1" y1="1130.3" x2="602.1" y2="849.7" stroke="#dfdfdf" stroke-width="1" stroke-dasharray="5 4.5"/>
<line x1="663.7" y1="1130.3" x2="663.7" y2="849.7" stroke="#dfdfdf" stroke-width="1" stroke-dasharray="5 4.5"/>
<line x1="725.3" y1="1130.3" x2="725.3" y2="849.7" stroke="#dfdfdf" stroke-width="1" stroke-dasharray="5 4.5"/>
<line x1="786.9" y1="1130.3" x2="786.9" y2="849.7" stroke="#dfdfdf" stroke-width="1" stroke-dasharray="5 4.5"/>
<line x1="848.5" y1="1130.3" x2="848.5" y2="849.7" stroke="#dfdfdf" stroke-width="1" stroke-dasharray="5 4.5"/>
<line x1="390.6" y1="1073.7" x2="878.9" y2="1073.7" stroke="#dfdfdf" stroke-width="1" stroke-dasharray="5 4.5" stroke-dashoffset="0"/>
<line x1="390.6" y1="1004.65" x2="878.9" y2="1004.65" stroke="#dfdfdf" stroke-width="1" stroke-dasharray="5 4.5" stroke-dashoffset="0"/>
<line x1="390.6" y1="935.6" x2="878.9" y2="935.6" stroke="#dfdfdf" stroke-width="1" stroke-dasharray="5 4.5" stroke-dashoffset="0"/>
<line x1="390.6" y1="866.55" x2="878.9" y2="866.55" stroke="#dfdfdf" stroke-width="1" stroke-dasharray="5 4.5" stroke-dashoffset="0"/>
<path d="M390.6 849.7H878.9V1130.3H390.6Z" fill="none" stroke="#262626" stroke-width="1.3"/>
<line x1="417.3" y1="1130.3" x2="417.3" y2="1125.3" stroke="#262626" stroke-width="1.3"/>
<line x1="417.3" y1="849.7" x2="417.3" y2="854.7" stroke="#262626" stroke-width="1.3"/>
<line x1="478.9" y1="1130.3" x2="478.9" y2="1125.3" stroke="#262626" stroke-width="1.3"/>
<line x1="478.9" y1="849.7" x2="478.9" y2="854.7" stroke="#262626" stroke-width="1.3"/>
<line x1="540.5" y1="1130.3" x2="540.5" y2="1125.3" stroke="#262626" stroke-width="1.3"/>
<line x1="540.5" y1="849.7" x2="540.5" y2="854.7" stroke="#262626" stroke-width="1.3"/>
<line x1="602.1" y1="1130.3" x2="602.1" y2="1125.3" stroke="#262626" stroke-width="1.3"/>
<line x1="602.1" y1="849.7" x2="602.1" y2="854.7" stroke="#262626" stroke-width="1.3"/>
<line x1="663.7" y1="1130.3" x2="663.7" y2="1125.3" stroke="#262626" stroke-width="1.3"/>
<line x1="663.7" y1="849.7" x2="663.7" y2="854.7" stroke="#262626" stroke-width="1.3"/>
<line x1="725.3" y1="1130.3" x2="725.3" y2="1125.3" stroke="#262626" stroke-width="1.3"/>
<line x1="725.3" y1="849.7" x2="725.3" y2="854.7" stroke="#262626" stroke-width="1.3"/>
<line x1="786.9" y1="1130.3" x2="786.9" y2="1125.3" stroke="#262626" stroke-width="1.3"/>
<line x1="786.9" y1="849.7" x2="786.9" y2="854.7" stroke="#262626" stroke-width="1.3"/>
<line x1="848.5" y1="1130.3" x2="848.5" y2="1125.3" stroke="#262626" stroke-width="1.3"/>
<line x1="848.5" y1="849.7" x2="848.5" y2="854.7" stroke="#262626" stroke-width="1.3"/>
<line x1="390.6" y1="1073.7" x2="395.6" y2="1073.7" stroke="#262626" stroke-width="1.3"/>
<line x1="878.9" y1="1073.7" x2="873.9" y2="1073.7" stroke="#262626" stroke-width="1.3"/>
<line x1="390.6" y1="1004.65" x2="395.6" y2="1004.65" stroke="#262626" stroke-width="1.3"/>
<line x1="878.9" y1="1004.65" x2="873.9" y2="1004.65" stroke="#262626" stroke-width="1.3"/>
<line x1="390.6" y1="935.6" x2="395.6" y2="935.6" stroke="#262626" stroke-width="1.3"/>
<line x1="878.9" y1="935.6" x2="873.9" y2="935.6" stroke="#262626" stroke-width="1.3"/>
<line x1="390.6" y1="866.55" x2="395.6" y2="866.55" stroke="#262626" stroke-width="1.3"/>
<line x1="878.9" y1="866.55" x2="873.9" y2="866.55" stroke="#262626" stroke-width="1.3"/>
<g clip-path="url(#cb)" stroke-width="1.8" fill="none">
<line x1="390.6" y1="1188.95" x2="878.9" y2="970.5" stroke="#ff0000"/>
<line x1="390.6" y1="1126.9" x2="878.9" y2="904.7" stroke="#4dcc00" stroke-dasharray="9 2.9 4.1 2.9"/>
<line x1="390.6" y1="1094" x2="878.9" y2="874.2" stroke="#000000" stroke-dasharray="9 9.7"/>
<line x1="390.6" y1="1078.8" x2="878.9" y2="862.2" stroke="#0000ff" stroke-dasharray="2 2.7"/>
<line x1="390.6" y1="1049" x2="878.9" y2="838.21" stroke="#eda41f"/>
<line x1="390.6" y1="1039.6" x2="878.9" y2="827.43" stroke="#ff00ff"/>
<line x1="390.6" y1="1037.3" x2="878.9" y2="824.62" stroke="#808080"/>
<line x1="390.6" y1="1029.7" x2="878.9" y2="819.28" stroke="#00ffff"/>
</g>
<circle cx="390.6" cy="1049.2" r="3.5" fill="none" stroke="#eda41f" stroke-width="1.6"/>
<path d="M390.6 1035.2L395.8 1044.2L385.4 1044.2Z" fill="#ff00ff"/>
<rect x="387.45" y="1035.15" width="6.3" height="6.3" fill="#808080"/>
<path d="M390.6 1023.7L394.3 1029.7L390.6 1035.7L386.9 1029.7Z" fill="#00ffff"/>
<circle cx="698.8" cy="916.15" r="3.5" fill="none" stroke="#eda41f" stroke-width="1.6"/>
<path d="M698.8 901.28L704 910.28L693.6 910.28Z" fill="#ff00ff"/>
<rect x="695.65" y="900.92" width="6.3" height="6.3" fill="#808080"/>
<path d="M698.8 890.89L702.5 896.89L698.8 902.89L695.1 896.89Z" fill="#00ffff"/>
<g style="filter:grayscale(1)"><text x="417.3" y="1150.8" font-size="17" text-anchor="middle">1.71</text></g>
<g style="filter:grayscale(1)"><text x="478.9" y="1150.8" font-size="17" text-anchor="middle">1.712</text></g>
<g style="filter:grayscale(1)"><text x="540.5" y="1150.8" font-size="17" text-anchor="middle">1.714</text></g>
<g style="filter:grayscale(1)"><text x="602.1" y="1150.8" font-size="17" text-anchor="middle">1.716</text></g>
<g style="filter:grayscale(1)"><text x="663.7" y="1150.8" font-size="17" text-anchor="middle">1.718</text></g>
<g style="filter:grayscale(1)"><text x="725.3" y="1150.8" font-size="17" text-anchor="middle">1.72</text></g>
<g style="filter:grayscale(1)"><text x="786.9" y="1150.8" font-size="17" text-anchor="middle">1.722</text></g>
<g style="filter:grayscale(1)"><text x="848.5" y="1150.8" font-size="17" text-anchor="middle">1.724</text></g>
<g style="filter:grayscale(1)"><text x="385" y="1077.1" font-size="17" text-anchor="end">7.12</text></g>
<g style="filter:grayscale(1)"><text x="385" y="1008.05" font-size="17" text-anchor="end">7.14</text></g>
<g style="filter:grayscale(1)"><text x="385" y="939" font-size="17" text-anchor="end">7.16</text></g>
<g style="filter:grayscale(1)"><text x="385" y="869.95" font-size="17" text-anchor="end">7.18</text></g>
<g style="filter:grayscale(1)"><text x="42" y="1176.4" font-size="17" text-anchor="end">0</text></g>
<g style="filter:grayscale(1)"><text x="42" y="1111.81" font-size="17" text-anchor="end">5</text></g>
<g style="filter:grayscale(1)"><text x="42" y="1047.23" font-size="17" text-anchor="end">10</text></g>
<g style="filter:grayscale(1)"><text x="42" y="982.64" font-size="17" text-anchor="end">15</text></g>
<g style="filter:grayscale(1)"><text x="42" y="918.05" font-size="17" text-anchor="end">20</text></g>
<g style="filter:grayscale(1)"><text x="42" y="853.46" font-size="17" text-anchor="end">25</text></g>
<g style="filter:grayscale(1)"><text x="42" y="788.87" font-size="17" text-anchor="end">30</text></g>
<g style="filter:grayscale(1)"><text x="42" y="724.29" font-size="17" text-anchor="end">35</text></g>
<g style="filter:grayscale(1)"><text x="42" y="659.7" font-size="17" text-anchor="end">40</text></g>
<g style="filter:grayscale(1)"><text x="47.7" y="1194" font-size="17" text-anchor="middle">0</text></g>
<g style="filter:grayscale(1)"><text x="134.79" y="1194" font-size="17" text-anchor="middle">2</text></g>
<g style="filter:grayscale(1)"><text x="221.88" y="1194" font-size="17" text-anchor="middle">4</text></g>
<g style="filter:grayscale(1)"><text x="308.97" y="1194" font-size="17" text-anchor="middle">6</text></g>
<g style="filter:grayscale(1)"><text x="396.06" y="1194" font-size="17" text-anchor="middle">8</text></g>
<g style="filter:grayscale(1)"><text x="483.15" y="1194" font-size="17" text-anchor="middle">10</text></g>
<g style="filter:grayscale(1)"><text x="570.24" y="1194" font-size="17" text-anchor="middle">12</text></g>
<g style="filter:grayscale(1)"><text x="657.33" y="1194" font-size="17" text-anchor="middle">14</text></g>
<g style="filter:grayscale(1)"><text x="744.42" y="1194" font-size="17" text-anchor="middle">16</text></g>
<g style="filter:grayscale(1)"><text x="831.51" y="1194" font-size="17" text-anchor="middle">18</text></g>
<g style="filter:grayscale(1)"><text x="918.6" y="1194" font-size="17" text-anchor="middle">20</text></g>
<rect x="773.7" y="662.3" width="139" height="177.2" fill="#fff" stroke="#262626" stroke-width="1.1"/>
<line x1="776" y1="674.3" x2="799.1" y2="674.3" stroke="#ff0000" stroke-width="1.8"/>
<g style="filter:grayscale(1)"><text x="801.8" y="677.6" font-size="14.6" text-anchor="start" textLength="107.2" lengthAdjust="spacingAndGlyphs">Distilled Water</text></g>
<line x1="776" y1="696.2" x2="799.1" y2="696.2" stroke="#4dcc00" stroke-width="1.8" stroke-dasharray="9.1 2.6 4.4 2.6"/>
<g style="filter:grayscale(1)"><text x="801.8" y="699.5" font-size="14.6" text-anchor="start" textLength="59" lengthAdjust="spacingAndGlyphs">25 mg/dl</text></g>
<line x1="776" y1="718.1" x2="799.1" y2="718.1" stroke="#000000" stroke-width="1.8" stroke-dasharray="9 10"/>
<g style="filter:grayscale(1)"><text x="801.8" y="721.4" font-size="14.6" text-anchor="start" textLength="59" lengthAdjust="spacingAndGlyphs">50 mg/dl</text></g>
<line x1="776" y1="740" x2="799.1" y2="740" stroke="#0000ff" stroke-width="1.8" stroke-dasharray="2 2.7"/>
<g style="filter:grayscale(1)"><text x="801.8" y="743.3" font-size="14.6" text-anchor="start" textLength="67.4" lengthAdjust="spacingAndGlyphs">100 mg/dl</text></g>
<line x1="776" y1="761.9" x2="799.1" y2="761.9" stroke="#eda41f" stroke-width="1.8"/>
<circle cx="787.55" cy="761.9" r="3.6" fill="none" stroke="#eda41f" stroke-width="1.6"/>
<g style="filter:grayscale(1)"><text x="801.8" y="765.2" font-size="14.6" text-anchor="start" textLength="67.4" lengthAdjust="spacingAndGlyphs">150 mg/dl</text></g>
<line x1="776" y1="783.8" x2="799.1" y2="783.8" stroke="#ff00ff" stroke-width="1.8"/>
<path d="M787.55 777.8L792.75 786.8L782.35 786.8Z" fill="#ff00ff"/>
<g style="filter:grayscale(1)"><text x="801.8" y="787.1" font-size="14.6" text-anchor="start" textLength="67.4" lengthAdjust="spacingAndGlyphs">200 mg/dl</text></g>
<line x1="776" y1="805.7" x2="799.1" y2="805.7" stroke="#808080" stroke-width="1.8"/>
<rect x="784.35" y="802.5" width="6.4" height="6.4" fill="#808080"/>
<g style="filter:grayscale(1)"><text x="801.8" y="809" font-size="14.6" text-anchor="start" textLength="67.4" lengthAdjust="spacingAndGlyphs">250 mg/dl</text></g>
<line x1="776" y1="827.6" x2="799.1" y2="827.6" stroke="#00ffff" stroke-width="1.8"/>
<path d="M787.55 821.6L791.05 827.6L787.55 833.6L784.05 827.6Z" fill="#00ffff"/>
<g style="filter:grayscale(1)"><text x="801.8" y="830.9" font-size="14.6" text-anchor="start" textLength="67.4" lengthAdjust="spacingAndGlyphs">300 mg/dl</text></g>
<g style="filter:grayscale(1)"><text x="483" y="1218.8" font-size="17" text-anchor="middle" textLength="64.7" lengthAdjust="spacingAndGlyphs">f (GHz)</text></g>
<g style="filter:grayscale(1)"><text x="456.2" y="1265.1" font-size="24" text-anchor="middle" style="stroke-width:0">(<tspan font-weight="bold">b</tspan>)</text></g>
<g style="filter:grayscale(1)"><text transform="translate(14.4,917.0) rotate(-90)" font-size="20" text-anchor="middle">&#949;</text></g>
</svg></body></html>
